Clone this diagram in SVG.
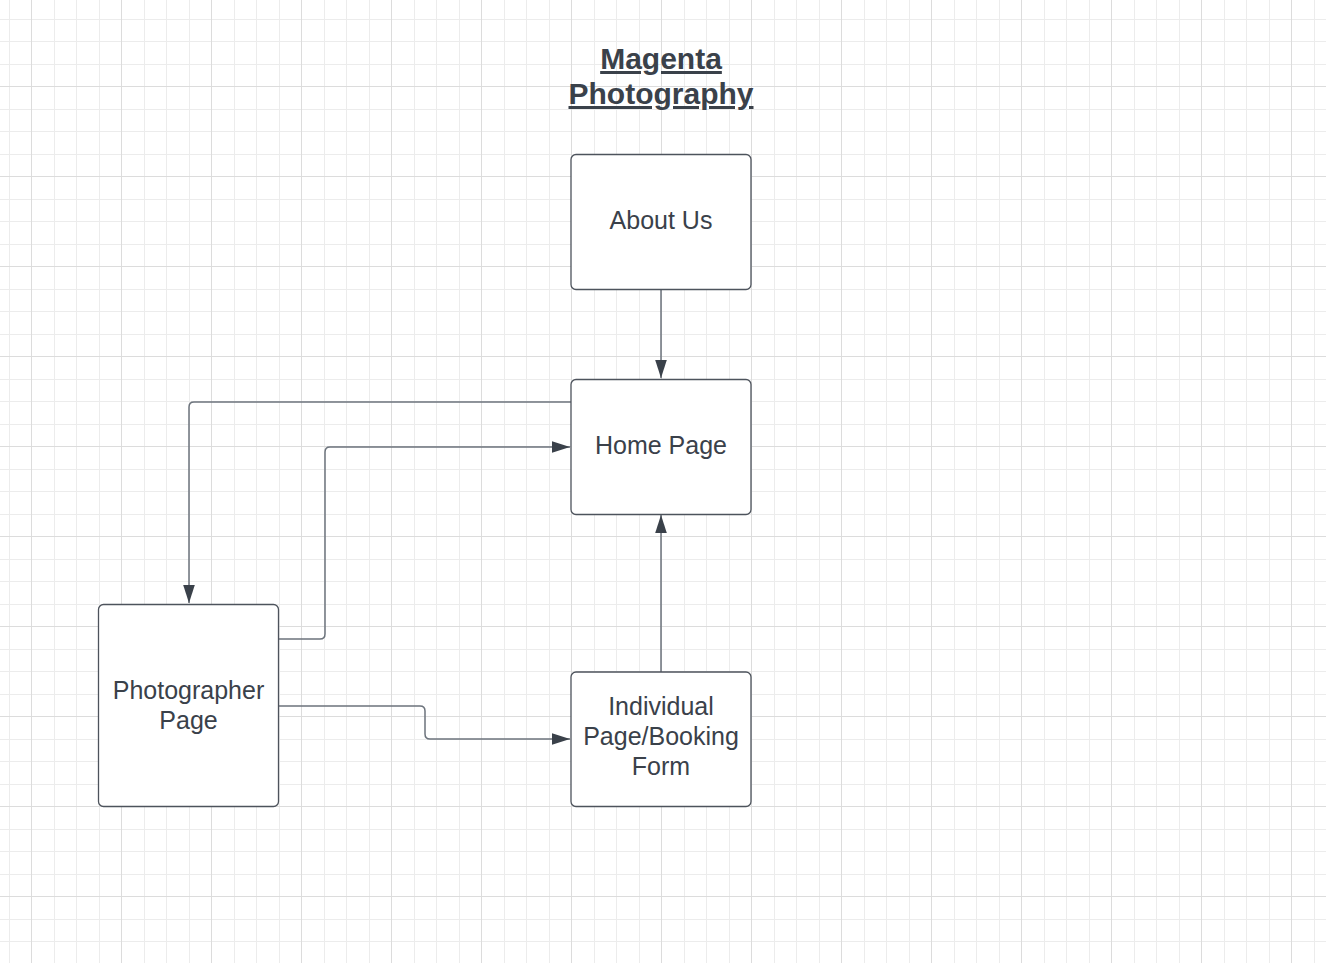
<svg xmlns="http://www.w3.org/2000/svg" width="1326" height="963" viewBox="0 0 1326 963">
<style>
.box{fill:#ffffff;stroke:#4d535c;stroke-width:1.3}
.lbl{font-family:"Liberation Sans",Arial,sans-serif;font-size:25px;fill:#3a414a;text-anchor:middle}
.title{font-family:"Liberation Sans",Arial,sans-serif;font-size:30px;font-weight:bold;fill:#3a414a;text-anchor:middle;text-decoration:underline}
.conn{fill:none;stroke:#6c737c;stroke-width:1.5}
</style>
<defs>
<pattern id="grid" patternUnits="userSpaceOnUse" x="31" y="-4" width="90" height="90">
<rect x="23" y="0" width="1" height="90" fill="#ececec"/>
<rect x="45" y="0" width="1" height="90" fill="#ececec"/>
<rect x="68" y="0" width="1" height="90" fill="#ececec"/>
<rect x="0" y="23" width="90" height="1" fill="#ececec"/>
<rect x="0" y="45" width="90" height="1" fill="#ececec"/>
<rect x="0" y="68" width="90" height="1" fill="#ececec"/>
<rect x="0" y="0" width="1" height="90" fill="#dcdcdc"/>
<rect x="0" y="0" width="90" height="1" fill="#dcdcdc"/>
</pattern>
<marker id="arr" markerUnits="userSpaceOnUse" markerWidth="18" markerHeight="12" refX="18" refY="6" orient="auto">
<path d="M0,0.2 L18,6 L0,11.8 z" fill="#3a414a"/>
</marker>
</defs>
<rect x="0" y="0" width="1326" height="963" fill="#ffffff"/>
<rect x="0" y="0" width="1326" height="963" fill="url(#grid)"/>

<g id="title">
<text class="title" x="661" y="69">Magenta</text>
<text class="title" x="661" y="104">Photography</text>
</g>

<g id="connectors">
<path class="conn" d="M661,290 L661,378" marker-end="url(#arr)"/>
<path class="conn" d="M571,402 L194,402 Q189,402 189,407 L189,603" marker-end="url(#arr)"/>
<path class="conn" d="M278,639 L320,639 Q325,639 325,634 L325,452 Q325,447 330,447 L570,447" marker-end="url(#arr)"/>
<path class="conn" d="M278,706 L420,706 Q425,706 425,711 L425,734 Q425,739 430,739 L570,739" marker-end="url(#arr)"/>
<path class="conn" d="M661,672 L661,515" marker-end="url(#arr)"/>
</g>

<g id="about-us">
<rect class="box" x="571" y="154.5" width="180" height="135" rx="5"/>
<text class="lbl" x="661" y="228.5">About Us</text>
</g>

<g id="home-page">
<rect class="box" x="571" y="379.5" width="180" height="135" rx="5"/>
<text class="lbl" x="661" y="453.5">Home Page</text>
</g>

<g id="photographer-page">
<rect class="box" x="98.5" y="604.5" width="180" height="202" rx="5"/>
<text class="lbl" x="188.5" y="698.5">Photographer</text>
<text class="lbl" x="188.5" y="728.5">Page</text>
</g>

<g id="individual-page">
<rect class="box" x="571" y="672" width="180" height="134.5" rx="5"/>
<text class="lbl" x="661" y="714.5">Individual</text>
<text class="lbl" x="661" y="744.5">Page/Booking</text>
<text class="lbl" x="661" y="774.5">Form</text>
</g>
</svg>
